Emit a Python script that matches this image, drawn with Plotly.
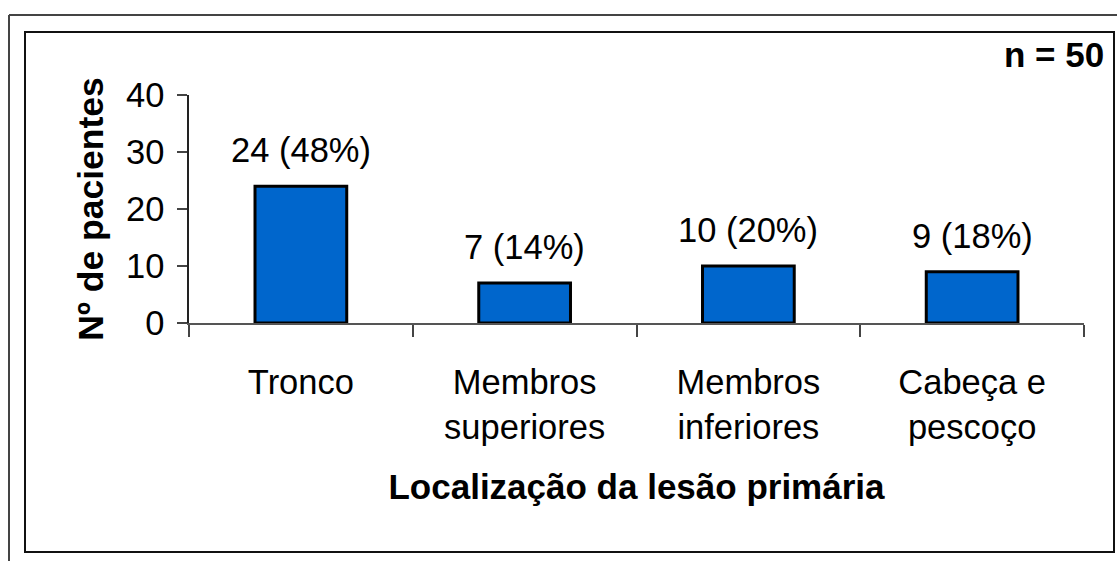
import plotly.graph_objects as go

categories = ["Tronco", "Membros<br>superiores", "Membros<br>inferiores", "Cabeça e<br>pescoço"]
patients = [24, 7, 10, 9]
percent_labels = ["24 (48%)", "7 (14%)", "10 (20%)", "9 (18%)"]
y_ticks = [0, 10, 20, 30, 40]

FONT = "Liberation Sans, Arial, sans-serif"
W, H = 1117, 561
L, R, T, B = 189, 33, 95, 238
pw, ph = W - L - R, H - T - B

def px_x(px):
    return (px - L) / pw

def px_y(py):
    return (H - B - py) / ph

fig = go.Figure()
fig.add_trace(go.Bar(
    x=categories, y=patients,
    marker=dict(color="#0066CC", line=dict(color="#000000", width=3)),
    hoverinfo="skip",
))

for c, v, t in zip(categories, patients, percent_labels):
    fig.add_annotation(x=c, y=v, text=t, showarrow=False, xref="x", yref="y",
                       yanchor="middle", yshift=36,
                       font=dict(family=FONT, size=34.5, color="#000000"))

fig.add_annotation(x=px_x(1106), y=px_y(55), xref="paper", yref="paper",
                   text="<b>n = 50</b>", showarrow=False, xanchor="right", yanchor="middle",
                   font=dict(family=FONT, size=35, color="#000000"))

# frames
fig.add_shape(type="rect", xref="paper", yref="paper",
              x0=px_x(25), x1=px_x(1114), y0=px_y(552), y1=px_y(32),
              line=dict(color="#111111", width=2), layer="below")
fig.add_shape(type="line", xref="paper", yref="paper",
              x0=px_x(9), x1=px_x(1130), y0=px_y(15), y1=px_y(15),
              line=dict(color="#444444", width=2))
fig.add_shape(type="line", xref="paper", yref="paper",
              x0=px_x(9), x1=px_x(9), y0=px_y(15), y1=px_y(575),
              line=dict(color="#444444", width=2))

fig.update_layout(
    width=W, height=H,
    margin=dict(l=L, r=R, t=T, b=B),
    paper_bgcolor="white", plot_bgcolor="white",
    bargap=0.59,
    showlegend=False,
    font=dict(family=FONT, size=34.5, color="#000000"),
    xaxis=dict(
        type="category",
        tickson="boundaries",
        ticks="outside", ticklen=12, tickwidth=1.5, tickcolor="#444444",
        showline=True, linecolor="#555555", linewidth=1.5,
        showgrid=False, zeroline=False,
        tickfont=dict(family=FONT, size=34.5, color="#000000"),
        ticklabelstandoff=28,
        title=dict(text="<b>Localização da lesão primária</b>", standoff=29,
                   font=dict(family=FONT, size=35, color="#000000")),
    ),
    yaxis=dict(
        range=[0, 40],
        tickvals=y_ticks,
        ticks="outside", ticklen=10, tickwidth=1.5, tickcolor="#444444",
        showline=True, linecolor="#222222", linewidth=1.5,
        showgrid=False, zeroline=False,
        tickfont=dict(family=FONT, size=34.5, color="#000000"),
        ticklabelstandoff=6,
        title=dict(text="<b>Nº de pacientes</b>", standoff=12,
                   font=dict(family=FONT, size=35.5, color="#000000")),
    ),
)

fig.write_html("out.html", config={"displayModeBar": False},
               post_script="document.body.style.margin='0';document.body.style.padding='0';")
